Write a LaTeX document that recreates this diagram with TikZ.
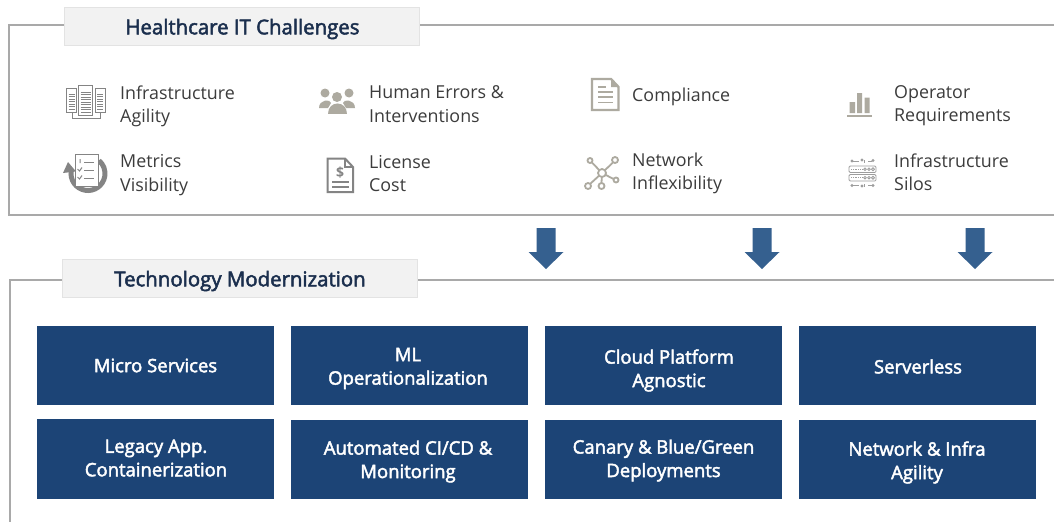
\documentclass[tikz,border=0pt]{standalone}
\usepackage{fontspec}
\setmainfont{Open Sans}
\newfontfamily\semib[FakeBold=2.4]{Open Sans}
\definecolor{framegray}{HTML}{A9A9A9}
\definecolor{titlefill}{HTML}{F2F2F2}
\definecolor{titleline}{HTML}{E3E3E3}
\definecolor{titleink}{HTML}{1B2F4E}
\definecolor{bodyink}{HTML}{3C3C3C}
\definecolor{boxblue}{HTML}{1C4476}
\definecolor{arrowblue}{HTML}{35608F}
\definecolor{iconwarm}{HTML}{ADAAA0}
\definecolor{icongray}{HTML}{848484}
\tikzset{
  x=1pt,y=-1pt,
  frameline/.style={draw=framegray,line width=2.2pt},
  titlebox/.style={draw=titleline,line width=1.4pt,fill=titlefill,minimum width=355pt,minimum height=38pt,inner sep=0pt},
  titletext/.style={inner sep=0pt,text=titleink,font=\semib\fontsize{20.4}{24}\selectfont},
  bluebox/.style={fill=boxblue,minimum width=237pt,minimum height=79.5pt,inner sep=0pt},
  boxtext/.style={inner sep=0pt,text=white,align=center,font=\semib\fontsize{18.5}{23.5}\selectfont},
  challenge/.style={anchor=west,inner sep=0pt,align=left,text=bodyink,font=\fontsize{17.85}{23.5}\selectfont},
  downarrow/.style={fill=arrowblue,draw=none},
  warmline/.style={draw=iconwarm,line width=1.8pt},
}
\newcommand{\downarr}[2]{\fill[downarrow] (#1-9.5,#2) -- (#1+9.5,#2) -- (#1+9.5,#2+24) -- (#1+17.5,#2+24) -- (#1,#2+41) -- (#1-17.5,#2+24) -- (#1-9.5,#2+24) -- cycle;}
\begin{document}
\begin{tikzpicture}
\useasboundingbox (0,0) rectangle (1054,522);
\fill[white] (0,0) rectangle (1054,522);
% frames
\coordinate (f1a) at (1054,25); \coordinate (f1b) at (9,25); \coordinate (f1c) at (9,215); \coordinate (f1d) at (1054,215);
\draw[frameline] (f1a) -- (f1b) -- (f1c) -- (f1d);
\coordinate (f2a) at (1054,280); \coordinate (f2b) at (10,280); \coordinate (f2c) at (10,522);
\draw[frameline] (f2a) -- (f2b) -- (f2c);
% titles
\node[titlebox] (t1) at (242,26.5) {};
\node[titletext] (t1t) at (242.5,29) {Healthcare IT Challenges};
\node[titlebox] (t2) at (240,278.5) {};
\node[titletext] (t2t) at (240,281) {Technology Modernization};
% challenge labels
\node[challenge] (c1) at (120,106.5) {Infrastructure\\Agility};
\node[challenge] (c2) at (369,104.3) {Human Errors \&\\Interventions};
\node[challenge] (c3) at (632,96.5) {Compliance};
\node[challenge] (c4) at (894,105.8) {Operator\\Requirements};
\node[challenge] (c5) at (120,175) {Metrics\\Visibility};
\node[challenge] (c6) at (369,173.5) {License\\Cost};
\node[challenge] (c7) at (632,173.5) {Network\\Inflexibility};
\node[challenge] (c8) at (894,172.3) {Infrastructure\\Silos};
% arrows
\downarr{546}{228}
\downarr{762}{228}
\downarr{975}{228}
% blue boxes
\node[bluebox] (b1) at (155.5,365.5) {};
\node[boxtext] (b1t) at (155.5,365.5) {Micro Services};
\node[bluebox] (b2) at (409.5,365.5) {};
\node[boxtext] (b2t) at (408,368.5) {ML\\Operationalization};
\node[bluebox] (b3) at (663.5,365.5) {};
\node[boxtext] (b3t) at (669,370.5) {Cloud Platform\\Agnostic};
\node[bluebox] (b4) at (917.5,365.5) {};
\node[boxtext] (b4t) at (918,366.5) {Serverless};
\node[bluebox] (b5) at (155.5,459) {};
\node[boxtext] (b5t) at (156,458) {Legacy App.\\Containerization};
\node[bluebox] (b6) at (409.5,459.5) {};
\node[boxtext] (b6t) at (408,461.5) {Automated CI/CD \&\\Monitoring};
\node[bluebox] (b7) at (663.5,459.5) {};
\node[boxtext] (b7t) at (663.5,460.5) {Canary \& Blue/Green\\Deployments};
\node[bluebox] (b8) at (917.5,459.5) {};
\node[boxtext] (b8t) at (917,462.5) {Network \& Infra\\Agility};
% icon: servers
\begin{scope}[draw=icongray,line width=1pt]
\draw (66.5,88) rectangle (76.5,112);
\draw (78.5,85) rectangle (92.5,115);
\draw (95,88) rectangle (105,112);
\draw (72,112) -- (72,118) -- (100,118) -- (100,112);
\foreach \yy in {94,96.5,...,109}{
 \draw[line width=.9pt] (68.5,\yy) -- (74.5,\yy);
 \draw[line width=.9pt] (97,\yy) -- (103,\yy);}
\foreach \yy in {92,94.5,...,112}{\draw[line width=.9pt] (80.5,\yy) -- (90.5,\yy);}
\end{scope}
% icon: metrics
\draw[icongray,line width=5pt] (88,173.5) ++(190:17) arc (190:-50:17);
\fill[icongray] (63,173) -- (76,171.5) -- (68,162) -- cycle;
\draw[fill=white,draw=icongray,line width=1pt] (75,154) rectangle (98,186);
\draw[icongray,line width=1pt] (84,162) -- (94,162) (84,170) -- (94,170) (84,178) -- (94,178);
\draw[icongray,line width=1pt] (80,159) -- (80,163) (77.5,169) -- (79.5,171) -- (82,167.5) (77.5,177) -- (79.5,179) -- (82,175.5);
% icon: people
\fill[iconwarm] (325,93) circle (4.5) (337,97) circle (5) (349,93) circle (4.5);
\fill[iconwarm] (319,108) .. controls (319,99) and (331,99) .. (331,103) -- (328,108) -- cycle;
\fill[iconwarm] (355,108) .. controls (355,99) and (343,99) .. (343,103) -- (346,108) -- cycle;
\fill[iconwarm] (328,114) .. controls (328,100) and (347,100) .. (347,114) -- cycle;
% icon: license
\draw[icongray,line width=2pt,line join=miter] (327.5,158.5) -- (345,158.5) -- (353,167) -- (353,192) -- (327.5,192) -- cycle;
\draw[icongray,line width=1.4pt] (345,158.5) -- (345,167) -- (353,167);
\node[inner sep=0pt,text=icongray,font=\bfseries\fontsize{14}{14}\selectfont] (dollar) at (340,173) {\$};
\draw[icongray,line width=1.8pt] (332,182) -- (349,182) (332,187) -- (349,187);
% icon: compliance
\draw[iconwarm,line width=2.4pt,line join=miter] (592,79) -- (611,79) -- (618.5,87) -- (618.5,110) -- (592,110) -- cycle;
\fill[iconwarm] (611,79) -- (618.5,87) -- (611,87) -- cycle;
\draw[iconwarm,line width=1.8pt] (598,87) -- (606,87) (598,92) -- (613,92) (598,97) -- (613,97) (598,102.5) -- (613,102.5);
% icon: network
\draw[warmline] (602,173) -- (591,161.5) (602,173) -- (614,161.5) (602,173) -- (614.5,179.5) (602,173) -- (601.5,183) (602,173) -- (590,184);
\foreach \cx/\cy/\cr in {602/173/4,590/160.5/2.5,615/160/3,616/180/2.5,601.5/186/3,588/186/3}{
 \draw[warmline,fill=white] (\cx,\cy) circle (\cr);}
% icon: bars
\fill[iconwarm] (849.5,102) rectangle (855,113) (857,93) rectangle (862,113) (864.5,97.5) rectangle (869.5,113);
\fill[iconwarm] (847,115) rectangle (872,117);
% icon: silos
\begin{scope}[draw=icongray!80,line width=.8pt]
\draw[rounded corners=1.2pt] (849,166) rectangle (876,172.5);
\draw[rounded corners=1.2pt] (849,174.5) rectangle (876,181);
\foreach \yy in {169.2,177.7}{
 \draw[dash pattern=on 1pt off .8pt] (851,\yy) -- (862,\yy);
 \draw (865,\yy) circle (1.3) (869,\yy) circle (1.3) (873,\yy) circle (1.5);}
\draw (853,161) -- (859,161) (864,160) -- (864,163) (868,161) -- (872,161);
\draw (852,161) circle (1) (862,160) circle (1) (873,160.5) circle (1);
\draw (853,185.5) -- (859,185.5) (864,184) -- (864,187) (868,185.5) -- (872,185.5);
\draw (852,185.5) circle (1) (862,186) circle (1) (873,185.5) circle (1);
\end{scope}
\end{tikzpicture}
\end{document}
